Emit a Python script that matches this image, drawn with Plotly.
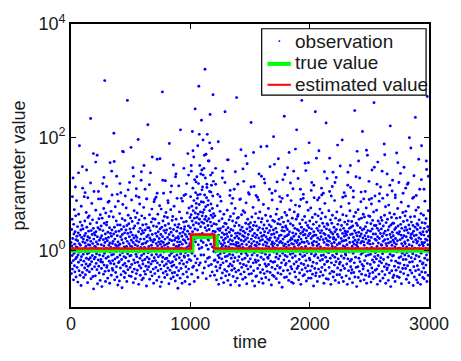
import plotly.graph_objects as go

# Observations: log10(value) * 100, one block per 50 time units (time 0..3000)
OBS_LOG100_BLOCKS = [
    [14, -22, -41, 37, 8, 55, -9, -33, 21, 3, 128, -18, -52, 46, 29, -5, 72, -27, 11, -38, 33, 0, -15, 61, 19, -47, 6, 88, -12, 25],
    [-30, 5, 42, 17, -56, -8, 31, -21, 64, 2, -36, 12, 185, -3, 27, -44, 50, 9, -17, 36, -62, 78, -11, 23, -26, 44, 1, -39, 110, 15],
    [38, -7, 20, -48, -19, 3, 95, 26, -31, 52, -2, 13, -43, 30, 7, -24, 67, -14, 142, 41, -35, 18, -6, -57, 24, 58, -28, 10, 34, -16],
    [-4, 61, -38, 22, 9, -25, 47, -13, 233, 16, -50, 35, 4, -20, 83, -33, 28, -9, 54, 12, -46, 1, 39, -68, 20, 104, -15, 31, -29, 7],
    [27, -12, -45, 6, 71, 33, -23, 15, -6, 49, -34, 168, 24, -59, 11, 40, -17, 3, 91, -28, 56, -40, 18, -8, 37, 0, -53, 63, 22, -20],
    [-16, 43, 10, -32, 26, -64, 57, 2, -21, 118, 35, -10, 19, -42, 74, 8, -26, 48, -5, 300, 14, -37, 29, -55, 66, 21, -14, 4, 45, -30],
    [50, -27, 17, 1, -49, 32, 85, -11, 23, -36, 9, 60, -19, 40, -58, 13, 155, -3, 30, -23, 5, 69, -44, 25, -8, 36, 98, -32, 12, -18],
    [-35, 16, 59, -7, 29, 207, -24, 4, 41, -52, 20, -15, 77, 10, -39, 33, -2, 52, -29, 131, 7, -47, 26, -12, 45, -61, 15, 87, -22, 3],
    [9, 34, -20, -54, 65, 11, -8, 45, -31, 24, 102, -43, 2, 37, -16, 19, -66, 56, 28, -4, 81, -26, 13, 174, -37, 42, -11, 6, -48, 31],
    [-23, 53, 4, -40, 21, -13, 36, 75, -28, 7, -55, 44, 16, 265, -6, 30, -34, 62, 1, -19, 47, 12, -45, 24, 120, -10, 38, -30, 8, 57],
    [32, -9, -46, 18, 89, -25, 6, 51, -38, 27, -1, 146, 14, -57, 39, -17, 22, 70, -33, 3, 43, -22, 10, -50, 58, 26, -7, 96, -41, 17],
    [-11, 23, 66, -35, 8, -21, 48, 196, -3, 33, -60, 15, 54, -27, 2, 82, -14, 39, -44, 20, 5, -31, 124, 29, -9, 61, -52, 11, 35, -18],
    [45, -24, 12, -49, 31, 76, -6, 20, -37, 5, 57, -16, 108, 36, -42, 13, -28, 46, 1, -63, 24, 91, -12, 16, -34, 40, 222, -4, 27, -21],
    [-29, 7, 40, -15, 63, -51, 22, -2, 35, 137, -38, 18, -24, 50, 9, -8, 73, -45, 28, 4, -19, 56, 15, -33, 43, -58, 19, 86, -13, 2],
    [19, -41, 55, 3, -18, 30, -30, 94, 12, -7, 42, -53, 25, 161, -22, 8, 64, -36, 33, -11, 15, 48, -47, 21, 0, 79, -26, 38, -64, 11],
    [-8, 28, -33, 73, 16, -56, 41, 6, -20, 280, 24, -12, 52, -40, 14, 101, -3, 35, -27, 60, 9, -48, 20, 44, -15, 31, -37, 67, 2, -24],
    [36, -14, 11, -43, 58, 23, -31, 5, 84, -19, 47, 13, -59, 28, 189, -9, 19, -35, 39, 1, -22, 72, -50, 32, -5, 114, 17, -28, 53, -40],
    [-20, 60, -3, 26, -47, 37, 10, -26, 78, -11, 18, -39, 45, 3, -54, 130, 22, -16, 55, 7, -30, 34, -8, 92, -44, 15, 41, -67, 24, 6],
    [21, -36, 46, 9, -13, 68, -23, 30, -49, 15, 213, -6, 39, -32, 4, 57, -18, 25, -58, 11, 87, -1, 32, -42, 19, -24, 50, 145, -10, 37],
    [-12, 42, 17, -55, 28, -4, 99, -29, 13, 51, -38, 24, 5, -21, 66, -47, 34, 171, -9, 20, 43, -33, 8, 75, -16, 29, -60, 12, 58, -2],
    [40, 95, 12, -18, 63, 140, 27, -42, 78, -5, 52, 210, 33, -30, 110, 8, 70, 45, -28, 165, 88, 20, -55, 57, 125, -10, 38, 250, 66, 15, 102, -22, 49, 83],
    [75, 22, -35, 130, 58, -15, 92, 36, 185, -48, 64, 10, 118, 47, 290, -26, 81, 3, 55, 150, 28, 99, -22, 68, 42, 135, -8, 17, 86, 230, 50, 5, 107, 61],
    [30, 112, -40, 67, 195, 14, 85, 48, -8, 145, 72, -31, 25, 98, 55, 320, 40, 128, -20, 77, 60, 170, -50, 9, 93, 35, 117, 52, 205, 21, -14, 80, 44, 2],
    [88, 18, -27, 56, 158, 37, -12, 104, 70, 26, 240, -45, 50, 133, 11, 82, 62, -25, 115, 43, 180, 29, -38, 74, 6, 96, 58, 275, 34, 122, 65, -2, 47, -18],
    [25, -44, 8, 61, -17, 33, -3, 117, -29, 14, 46, -52, 20, 3, -36, 79, 10, -21, 38, -9, 192, 27, -60, 16, 52, -13, 0, 35, -31, 69],
    [-6, 39, -26, 12, 87, -49, 23, 5, -15, 56, 31, -40, 9, 140, -22, 42, 18, -57, 64, -4, 28, 13, -34, 48, 245, -11, 21, -45, 7, 36],
    [47, -19, 29, -37, 2, 71, -10, 24, -53, 40, 160, 15, -28, 6, 54, -43, 32, -7, 97, 19, -24, 60, -61, 11, 37, -14, 26, 83, -35, 4],
    [-27, 17, 52, -8, 35, -46, 11, 65, -20, 1, 108, -32, 43, 22, -13, 74, -55, 30, 9, -38, 49, 14, 270, -3, 25, -49, 57, 7, -18, 31],
    [13, 58, -35, 21, -11, 44, -62, 8, 90, 29, -23, 4, 36, -42, 178, 18, -6, 63, -30, 11, 41, -16, 26, -51, 5, 70, 34, -25, 122, 16],
    [-38, 24, 2, 67, -14, 31, -48, 19, 48, -5, 84, -27, 10, -59, 38, 153, -9, 22, 55, -33, 3, 28, -20, 46, 15, -42, 99, 6, -1, 41],
    [34, -15, 49, -29, 7, 226, 20, -41, 12, 59, -8, 37, -54, 26, 1, 76, -22, 44, -36, 16, 113, -4, 30, -63, 50, 9, -17, 23, 65, -46],
    [-21, 8, 43, -45, 27, 14, -9, 94, -32, 36, 4, -18, 57, 22, -56, 135, 11, 40, -26, 68, -3, 17, -39, 31, 183, -12, 50, 2, -50, 25],
    [56, -4, 19, -34, 38, -58, 10, 81, -16, 27, 45, -41, 2, 33, 119, -24, 15, -7, 62, -48, 24, 8, -28, 39, 289, 13, -37, 52, 20, -12],
    [-14, 31, 74, -25, 6, -52, 45, 18, -8, 35, 148, -39, 22, 60, -19, 1, 42, -61, 28, 11, -30, 89, 15, -44, 53, 7, -21, 36, 201, -3],
    [29, -46, 12, 51, -20, 23, -33, 105, 4, 39, -12, 64, -50, 17, 32, -6, 73, -27, 9, 47, -40, 21, 162, -15, 0, 55, -57, 26, 14, -31],
    [-10, 46, -30, 16, 86, -42, 27, 3, -22, 58, 35, -65, 13, 41, -5, 125, 20, -36, 50, 8, -17, 34, 237, -48, 24, 67, -9, 11, -26, 43],
    [41, -23, 5, -47, 62, 26, -11, 37, 97, -35, 15, 52, -2, 28, -53, 9, 173, -19, 33, 72, -41, 18, -7, 47, 3, -29, 88, 22, -56, 12],
    [-33, 20, 57, -13, 31, -5, 44, -58, 11, 140, 25, -24, 68, 6, -38, 39, 17, -10, 80, -47, 29, 2, 55, -20, 213, 14, -32, 37, -1, 60],
    [18, 63, -28, 9, -52, 35, 24, -16, 78, -40, 47, 12, -7, 108, 30, -60, 20, -23, 41, 5, 265, -34, 15, 54, -11, 33, -45, 92, 27, -3],
    [-25, 37, 14, -43, 60, -9, 28, 154, -31, 7, 49, -18, 22, -54, 35, 85, -4, 16, -37, 44, 1, -27, 71, 26, -49, 12, 40, 190, -14, 30],
    [52, -17, 30, -36, 4, 75, -49, 21, -6, 38, 120, -28, 13, 58, -42, 25, 9, -21, 46, -63, 33, 16, 93, -10, 27, -32, 2, 64, 245, -45],
    [-7, 27, -40, 50, 15, -23, 39, 8, -55, 89, 22, -13, 61, 35, -33, 11, 176, -1, 43, -46, 19, 73, -18, 31, 6, -38, 56, 24, -9, 110],
    [35, -30, 66, 2, -16, 48, -44, 19, 101, -8, 30, -58, 14, 42, -25, 4, 83, 28, -35, 59, -12, 21, 225, -50, 38, 10, -20, 47, -3, 17],
    [-19, 45, 9, -51, 26, -4, 70, -30, 16, 36, 163, -41, 23, -14, 54, 1, -60, 32, 96, -22, 12, 48, -37, 7, 62, -9, 29, 138, -47, 20],
    [23, -38, 41, 14, -26, 88, -12, 33, -53, 5, 57, 19, -20, 129, 37, -6, 68, -43, 10, 28, -31, 46, 285, -15, 24, 2, -57, 53, 13, -24],
    [-43, 12, 54, -21, 36, 3, -35, 77, 21, -10, 44, -48, 16, 195, -2, 30, 63, -27, 8, -55, 39, 17, -14, 102, 25, -32, 50, 6, 34, -6],
    [30, -8, 18, -45, 61, 27, -24, 10, 46, -60, 33, 115, -15, 4, 52, -36, 22, 83, -3, 39, -50, 14, 70, -19, 150, 28, -29, 41, 1, -40],
    [-16, 51, -34, 7, 29, -57, 43, 15, -5, 94, 23, -39, 60, 11, -22, 35, 247, -47, 18, 3, -12, 67, 31, -30, 48, 9, -64, 26, 175, 14],
    [44, 6, -29, 72, -48, 19, 32, -14, 55, 1, -37, 128, 25, -20, 40, -54, 13, 86, -7, 29, 57, -42, 16, -25, 36, 210, -4, 22, -33, 64],
    [-28, 15, 38, -52, 9, 59, -18, 26, -2, 104, 42, -44, 20, -10, 75, 31, -58, 4, 49, -23, 168, 13, 35, -36, 24, -8, 61, 17, -46, 90],
    [17, -41, 60, 11, -25, 34, -7, 47, -56, 23, 82, 5, -31, 142, 38, -17, 53, -39, 12, 29, -50, 68, 2, 261, -21, 44, -11, 20, 96, -35],
    [-4, 29, -47, 44, 18, -15, 71, -33, 7, 39, -60, 24, 156, -9, 52, 13, -27, 35, -42, 87, 21, -19, 47, 1, -54, 30, 112, -13, 58, 10],
    [38, -22, 9, 53, -37, 25, -6, 92, -49, 16, 43, -16, 30, 4, 188, -29, 62, 19, -43, 34, -2, 77, -58, 12, 49, -24, 27, 8, -34, 135],
    [-31, 55, 20, -12, 36, -53, 13, 80, -26, 42, 2, -40, 66, 28, -7, 220, 15, -64, 45, 23, -18, 58, -36, 9, 105, 32, -10, 48, -48, 18],
    [26, -9, 48, -44, 14, 64, -28, 37, 6, -55, 98, 21, -19, 40, -35, 11, 57, 172, -3, 31, -46, 17, 74, -22, 43, 3, -30, 29, 120, -13],
    [-48, 33, 4, -23, 58, 19, -38, 46, -11, 27, 85, -59, 12, 39, 296, -5, 22, -32, 67, 8, -16, 51, -41, 26, 147, -26, 35, 15, -8, 61],
    [12, 41, -32, 69, -16, 24, -51, 6, 36, -4, 53, 117, -27, 18, -44, 31, 78, -10, 45, -57, 10, 199, -21, 38, 2, -35, 59, 23, -1, 28],
    [-13, 50, 21, -40, 8, 30, -20, 92, -6, 44, -62, 15, 34, -29, 132, 26, -47, 60, 4, -15, 41, 235, -36, 19, 71, -9, 27, -52, 13, 47],
    [37, -27, 16, -57, 45, 3, 76, -34, 22, -11, 54, 9, -43, 108, 31, -19, 40, -60, 20, 65, -5, 28, 185, -38, 14, 49, -24, 11, -48, 33],
    [-22, 8, 62, -31, 27, -50, 39, 14, -14, 87, 48, -39, 20, 3, -26, 56, 158, -8, 33, -55, 18, 272, -17, 42, 10, -44, 70, 25, -3, 36],
]
BLOCK_SPAN = 50

# Additional upper-tail observations (time, log10(value) * 100)
EXTRA_T = [37, 95, 141, 188, 230, 276, 319, 362, 410, 455, 503, 548, 590, 633, 681, 722, 769, 812, 858, 903,
           947, 985, 1022, 1048, 1075, 1096, 1118, 1139, 1162, 1185, 1230, 1268, 1311, 1356, 1398, 1441, 1487, 1530,
           1572, 1619, 1663, 1705, 1748, 1792, 1839, 1881, 1926, 1968, 2013, 2057, 2101, 2146, 2189, 2234, 2278, 2321,
           2366, 2410, 2453, 2497, 2542, 2585, 2629, 2672, 2718, 2761, 2805, 2848, 2893, 2936, 2980,
           12, 63, 118, 164, 207, 251, 298, 341, 388, 432, 479, 524, 569, 612, 657, 701, 746, 791, 835, 880, 925, 969,
           1008, 1062, 1108, 1150, 1173, 1212, 1249, 1290, 1334, 1377, 1420, 1464, 1509, 1551, 1596, 1641, 1684, 1727,
           1770, 1815, 1860, 1903, 1947, 1990, 2035, 2079, 2124, 2167, 2212, 2256, 2300, 2343, 2388, 2431, 2476, 2519,
           2564, 2607, 2651, 2695, 2739, 2783, 2826, 2871, 2914, 2958, 2995]
EXTRA_LOG100 = [112, 148, 93, 171, 104, 129, 87, 157, 118, 96, 182, 109, 139, 91, 165, 101, 124, 88, 151, 114,
                97, 133, 176, 121, 205, 142, 168, 111, 190, 137, 99, 128, 160, 92, 117, 144, 102, 173,
                89, 126, 108, 152, 95, 134, 119, 179, 90, 141, 106, 163, 98, 127, 113, 186, 94, 138,
                105, 158, 91, 122, 147, 100, 169, 115, 93, 136, 110, 181, 97, 125, 143,
                95, 137, 102, 119, 156, 91, 113, 140, 99, 175, 107, 131, 94, 150, 116, 90, 162, 123, 103, 135, 92, 118,
                150, 98, 133, 158, 103, 145, 95, 120, 106, 139, 91, 167, 112, 97, 131, 184, 101, 121,
                92, 146, 109, 127, 99, 155, 115, 93, 139, 104, 120, 149, 96, 111, 130, 103, 177, 92,
                117, 140, 98, 124, 155, 101, 119, 94, 161, 108, 131]

# True and estimated parameter values (step changes)
TRUE_T = [0, 1015, 1220, 3000]
TRUE_V = [1.0, 1.75, 1.0, 1.0]
EST_T = [0, 1005, 1200, 3000]
EST_V = [1.08, 1.9, 1.08, 1.08]

X_TICKS = [0, 1000, 2000, 3000]
Y_TICKS = [1, 100, 10000]
Y_TICK_TEXT = ["10<sup>0</sup>", "10<sup>2</sup>", "10<sup>4</sup>"]

LEGEND_LABELS = ["observation", "true value", "estimated value"]

obs_t, obs_v = [], []
for b, block in enumerate(OBS_LOG100_BLOCKS):
    n = len(block)
    for j, lv in enumerate(block):
        obs_t.append(b * BLOCK_SPAN + (j + 0.5) * BLOCK_SPAN / n)
        obs_v.append(10 ** (lv / 100.0))
for t, lv in zip(EXTRA_T, EXTRA_LOG100):
    obs_t.append(t)
    obs_v.append(10 ** (lv / 100.0))

FONT = "Liberation Sans"
TXT = "#1a1a1a"
BLUE, GREEN, RED = "#0000ff", "#00ff00", "#ff0000"

fig = go.Figure()
fig.add_trace(go.Scatter(
    x=obs_t, y=obs_v, mode="markers", name=LEGEND_LABELS[0], showlegend=False,
    marker=dict(color=BLUE, size=2.9, line=dict(width=0)),
))
fig.add_trace(go.Scatter(
    x=TRUE_T, y=TRUE_V, mode="lines", name=LEGEND_LABELS[1], showlegend=False,
    line=dict(color=GREEN, width=4.5, shape="hv"),
))
fig.add_trace(go.Scatter(
    x=EST_T, y=EST_V, mode="lines", name=LEGEND_LABELS[2], showlegend=False,
    line=dict(color=RED, width=2.5, shape="hv"),
))

axis_common = dict(
    showline=True, linecolor="#000000", linewidth=1.6, mirror="ticks",
    ticks="inside", ticklen=5, tickwidth=1, tickcolor="#000000",
    showgrid=False, zeroline=False,
    tickfont=dict(family=FONT, size=18, color=TXT),
)

fig.update_xaxes(
    range=[0, 3000], tickvals=X_TICKS, ticktext=[str(v) for v in X_TICKS],
    title=dict(text="time", font=dict(family=FONT, size=18, color=TXT), standoff=2),
    **axis_common,
)
fig.update_yaxes(
    type="log", range=[-1, 4], tickvals=Y_TICKS, ticktext=Y_TICK_TEXT,
    title=dict(text="parameter value", font=dict(family=FONT, size=18, color=TXT), standoff=8),
    **axis_common,
)

# Legend box drawn inside the axes (plot-area fractions)
PW, PH, PL, PT = 368.0, 298.0, 71.0, 15.0
def px(xp):
    return (xp - PL) / PW
def py(yp):
    return 1 - (yp - PT) / PH

shapes = [
    dict(type="rect", xref="paper", yref="paper", x0=px(267), x1=px(436), y0=py(90), y1=py(20),
         line=dict(color="#000000", width=1.2), fillcolor="white", layer="above"),
    dict(type="circle", xref="paper", yref="paper", x0=px(284.2), x1=px(286.2), y0=py(34), y1=py(32),
         line=dict(width=0), fillcolor=BLUE, layer="above"),
    dict(type="line", xref="paper", yref="paper", x0=px(273), x1=px(297), y0=py(57), y1=py(57),
         line=dict(color=GREEN, width=4), layer="above"),
    dict(type="line", xref="paper", yref="paper", x0=px(273), x1=px(297), y0=py(79), y1=py(79),
         line=dict(color=RED, width=2), layer="above"),
]
annotations = []
for label, yc in zip(LEGEND_LABELS, [33, 56, 79]):
    annotations.append(dict(
        xref="paper", yref="paper", x=px(299), y=py(yc), xanchor="left", yanchor="middle",
        text=label, showarrow=False, font=dict(family=FONT, size=19, color=TXT),
    ))

fig.update_layout(
    width=461, height=361,
    margin=dict(l=71, r=22, t=15, b=48),
    paper_bgcolor="white", plot_bgcolor="white",
    showlegend=False,
    shapes=shapes, annotations=annotations,
    font=dict(family=FONT, size=18, color=TXT),
)

fig.write_html("out.html")
